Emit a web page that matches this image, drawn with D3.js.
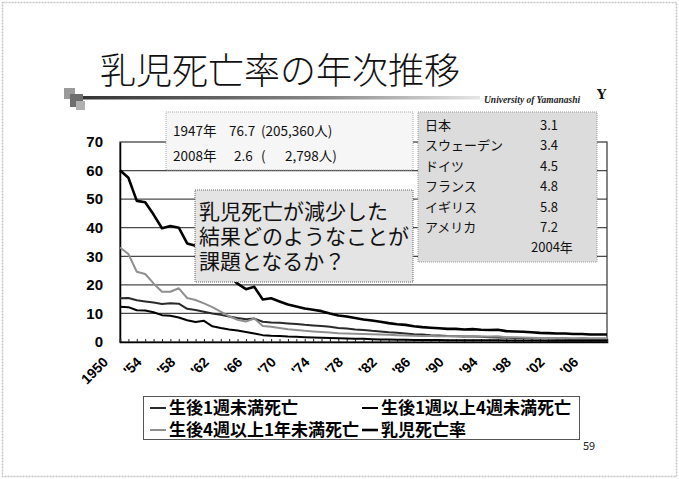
<!DOCTYPE html>
<html>
<head>
<meta charset="utf-8">
<script src="https://cdn.jsdelivr.net/npm/d3@7"></script>
<style>
  html, body { margin: 0; padding: 0; background: #fff; }
  svg { display: block; }
  .jp { font-family: "Noto Sans CJK JP", "Noto Sans", sans-serif; }
  .ax { font-family: "Liberation Sans", Arial, sans-serif; font-weight: bold; }
</style>
</head>
<body>
<svg id="slide" width="679" height="479"></svg>
<script>
// Years on the category axis
const years = d3.range(1950, 2009);

// 乳児死亡率 (per 1,000 births)
const infant = [60.1,57.5,49.4,48.9,44.6,39.8,40.6,40.0,34.5,33.7,
  30.7,28.6,26.4,23.2,20.4,18.5,19.3,14.9,15.3,14.2,
  13.1,12.4,11.7,11.3,10.8,10.0,9.3,8.9,8.4,7.9,
  7.5,7.1,6.6,6.2,6.0,5.5,5.2,5.0,4.8,4.6,
  4.6,4.4,4.5,4.3,4.2,4.3,3.8,3.7,3.6,3.4,
  3.2,3.1,3.0,3.0,2.8,2.8,2.6,2.6,2.6];

// 生後1週未満死亡
const earlyNeonatal = [15.3,15.4,14.6,14.2,13.8,13.3,13.6,13.4,11.6,11.2,
  10.6,10.0,9.5,8.9,8.4,8.0,8.2,7.1,6.8,6.7,
  6.5,6.3,6.0,5.8,5.6,5.3,4.9,4.7,4.4,4.2,
  3.9,3.7,3.4,3.2,3.0,2.7,2.6,2.4,2.3,2.1,
  2.0,1.9,1.9,1.8,1.7,1.6,1.5,1.4,1.4,1.3,
  1.3,1.2,1.1,1.1,1.0,1.0,0.9,0.8,0.8];

// 生後1週以上4週未満死亡
const lateNeonatal = [12.3,12.2,11.1,11.0,10.4,9.4,9.2,8.6,7.6,7.0,
  7.4,5.5,4.9,4.4,4.0,3.5,3.0,2.4,2.2,2.1,
  1.9,1.8,1.7,1.6,1.5,1.4,1.3,1.2,1.1,1.1,
  1.0,0.9,0.9,0.8,0.8,0.7,0.7,0.7,0.7,0.6,
  0.6,0.6,0.6,0.6,0.6,0.6,0.5,0.5,0.5,0.5,
  0.5,0.4,0.4,0.4,0.4,0.4,0.4,0.4,0.4];

// 生後4週以上1年未満死亡
const postNeonatal = [33.1,30.8,24.6,23.8,20.5,17.6,17.6,18.8,15.4,14.7,
  13.5,12.2,10.6,9.0,7.8,7.2,8.2,5.6,5.3,4.9,
  4.5,4.2,3.9,3.7,3.5,3.3,3.1,3.0,2.9,2.8,
  2.7,2.6,2.5,2.4,2.3,2.2,2.1,2.1,2.0,2.0,
  2.0,1.9,2.0,1.9,1.9,2.0,1.7,1.7,1.6,1.5,
  1.4,1.4,1.4,1.4,1.3,1.4,1.3,1.3,1.3];

const yTicks = [0,10,20,30,40,50,60,70];
const xLabelYears = d3.range(1950, 2009, 4);

const seriesNames = ["生後1週未満死亡","生後1週以上4週未満死亡","生後4週以上1年未満死亡","乳児死亡率"];

// 2004年 international comparison
const countries = ["日本","スウェーデン","ドイツ","フランス","イギリス","アメリカ"];
const countryRates = ["3.1","3.4","4.5","4.8","5.8","7.2"];

const svg = d3.select("#slide");

// slide frame
svg.append("rect").attr("x",2.5).attr("y",2.5).attr("width",674).attr("height",474)
  .attr("fill","none").attr("stroke","#c4c4c4").attr("stroke-width",1.5)
  .attr("stroke-dasharray","2,1");

// header
svg.append("text").attr("class","jp").attr("x",100).attr("y",84)
  .attr("font-size",36).attr("font-weight",300).attr("fill","#111")
  .text("乳児死亡率の年次推移");

const defs = svg.append("defs");
const grad = defs.append("linearGradient").attr("id","rule");
grad.append("stop").attr("offset","0%").attr("stop-color","#333");
grad.append("stop").attr("offset","60%").attr("stop-color","#888");
grad.append("stop").attr("offset","100%").attr("stop-color","#e6e6e6");
svg.append("rect").attr("x",82).attr("y",96).attr("width",398).attr("height",3.5).attr("fill","url(#rule)");

[[64,88,11,11,"#9a9a9a"],[70,94,13,13,"#6e6e6e"],[76,101,9,9,"#b0b0b0"]].forEach(s => {
  svg.append("rect").attr("x",s[0]).attr("y",s[1]).attr("width",s[2]).attr("height",s[3]).attr("fill",s[4]);
});

svg.append("text").attr("x",484).attr("y",103)
  .attr("font-family","'Liberation Serif', serif").attr("font-style","italic").attr("font-weight","bold")
  .attr("font-size",9.5).attr("fill","#222").text("University of Yamanashi");
svg.append("text").attr("x",597).attr("y",99)
  .attr("font-family","'DejaVu Serif', serif").attr("font-weight","bold")
  .attr("font-size",13).attr("fill","#111").text("Y");

// chart
const x = d3.scalePoint().domain(years).range([120, 607]);
const y = d3.scaleLinear().domain([0, 70]).range([342, 142]);

const g = svg.append("g");

g.selectAll("line.grid").data(yTicks.filter(d => d > 0 && d < 70)).join("line")
  .attr("class","grid")
  .attr("x1",120).attr("x2",607)
  .attr("y1",d => y(d)).attr("y2",d => y(d))
  .attr("stroke","#4a4a4a").attr("stroke-width",1.3);

g.append("rect").attr("x",120).attr("y",y(70)).attr("width",487).attr("height",y(0)-y(70))
  .attr("fill","none").attr("stroke","#333").attr("stroke-width",1.2);

// y axis
const yAxis = g.append("g").attr("transform","translate(120,0)")
  .call(d3.axisLeft(y).tickValues(yTicks).tickSize(0).tickPadding(17));
yAxis.select(".domain").attr("stroke","#000").attr("stroke-width",1.5);
yAxis.selectAll("text").attr("class","ax").attr("font-size",15).attr("fill","#000");

// x axis: small inward ticks at each year
const xAxis = g.append("g").attr("transform","translate(0,342)")
  .call(d3.axisBottom(x).tickValues(years).tickSize(-3).tickFormat(""));
xAxis.select(".domain").attr("stroke","#000").attr("stroke-width",1.5);
xAxis.selectAll(".tick line").attr("stroke","#222").attr("stroke-width",1);

g.selectAll("text.xl").data(xLabelYears).join("text")
  .attr("class","xl ax")
  .attr("font-size",14).attr("fill","#000")
  .attr("text-anchor","end")
  .attr("transform",d => `translate(${x(d)-11},${363}) rotate(-45)`)
  .text(d => d === 1950 ? "1950" : "'" + String(d).slice(2));

// series lines
const line = d3.line().x((d,i) => x(years[i])).y(d => y(d));
const series = [
  {name: seriesNames[0], values: earlyNeonatal, color: "#2a2a2a", width: 2},
  {name: seriesNames[1], values: lateNeonatal, color: "#000", width: 2},
  {name: seriesNames[2], values: postNeonatal, color: "#8f8f8f", width: 2},
  {name: seriesNames[3], values: infant, color: "#000", width: 2.6}
];
g.selectAll("path.series").data(series).join("path")
  .attr("class","series")
  .attr("fill","none")
  .attr("stroke",d => d.color)
  .attr("stroke-width",d => d.width)
  .attr("stroke-linejoin","round")
  .attr("d",d => line(d.values));

// annotation boxes
svg.append("rect").attr("x",166).attr("y",112).attr("width",247).attr("height",58)
  .attr("fill","#f6f6f6").attr("stroke","#aaa").attr("stroke-dasharray","1,1");
const t1 = svg.append("g").attr("class","jp").attr("font-size",13.5).attr("fill","#111");
t1.append("text").attr("x",173).attr("y",136).text("1947年");
t1.append("text").attr("x",229).attr("y",136).text("76.7");
t1.append("text").attr("x",261).attr("y",136).text("(205,360人)");
t1.append("text").attr("x",173).attr("y",161).text("2008年");
t1.append("text").attr("x",234).attr("y",161).text("2.6");
t1.append("text").attr("x",261).attr("y",161).text("(");
t1.append("text").attr("x",285).attr("y",161).text("2,798人)");

svg.append("rect").attr("x",418).attr("y",112).attr("width",179).attr("height",150)
  .attr("fill","#dcdcdc").attr("stroke","#999").attr("stroke-dasharray","1,1");
const t2 = svg.append("g").attr("class","jp").attr("font-size",13).attr("fill","#111");
t2.selectAll("text.c").data(countries).join("text").attr("class","c")
  .attr("x",425).attr("y",(d,i) => 130 + i*20.4).text(d => d);
t2.selectAll("text.v").data(countryRates).join("text").attr("class","v")
  .attr("x",540).attr("y",(d,i) => 130 + i*20.4).text(d => d);
t2.append("text").attr("x",531).attr("y",252).text("2004年");

svg.append("rect").attr("x",195).attr("y",190).attr("width",218).attr("height",92)
  .attr("fill","#e4e4e4").attr("stroke","#666").attr("stroke-dasharray","1,1");
const q = svg.append("g").attr("class","jp").attr("font-size",21).attr("fill","#111");
["乳児死亡が減少した","結果どのようなことが","課題となるか？"].forEach((s,i) => {
  q.append("text").attr("x",199).attr("y",219 + i*25).text(s);
});

// legend
svg.append("rect").attr("x",143.5).attr("y",396.5).attr("width",436).attr("height",43)
  .attr("fill","#fff").attr("stroke","#555").attr("stroke-width",1);
const legPos = [[150,408],[362,408],[150,430],[362,430]];
series.forEach((s,i) => {
  const [lx, ly] = legPos[i];
  svg.append("line").attr("x1",lx).attr("x2",lx+16).attr("y1",ly).attr("y2",ly)
    .attr("stroke",s.color).attr("stroke-width",s.width);
  svg.append("text").attr("class","jp").attr("font-weight","bold").attr("font-size",17)
    .attr("x",lx+19).attr("y",ly+6).attr("fill","#000").text(s.name);
});

svg.append("text").attr("class","jp").attr("x",583).attr("y",450).attr("font-size",11).attr("fill","#222").text("59");
</script>
</body>
</html>
